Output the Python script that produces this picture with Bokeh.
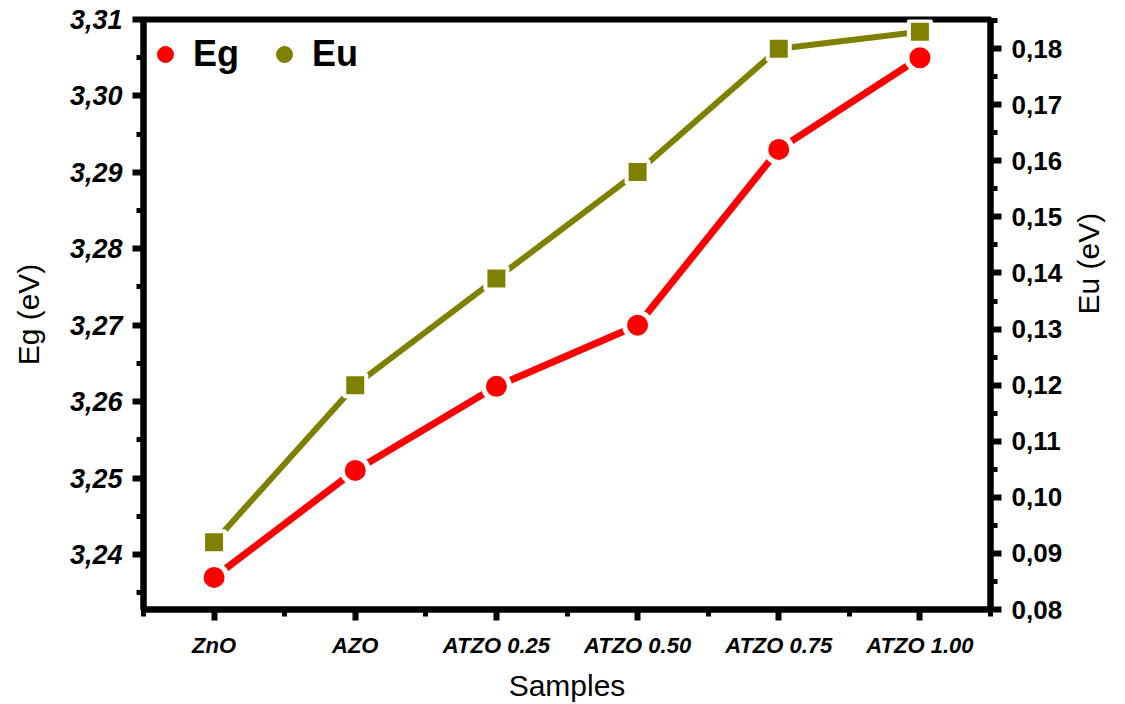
import math
from bokeh.plotting import figure
from bokeh.models import (Range1d, LinearAxis, SingleIntervalTicker, FixedTicker,
                          CustomJSTickFormatter, Legend, LegendItem)
from bokeh.embed import file_html
from bokeh.resources import INLINE

samples = ["ZnO", "AZO", "ATZO 0.25", "ATZO 0.50", "ATZO 0.75", "ATZO 1.00"]
eg_values = [3.237, 3.251, 3.262, 3.270, 3.293, 3.305]
eu_values = [0.092, 0.120, 0.139, 0.158, 0.180, 0.183]

xpos = list(range(len(samples)))
RED = "#FF0000"
OLIVE = "#808000"
FONT = "Liberation Sans"

p = figure(width=1125, height=704, output_backend="svg", toolbar_location=None,
           x_range=Range1d(-0.5, 5.5), y_range=Range1d(3.2328, 3.31),
           min_border_left=143, min_border_right=135, min_border_top=19,
           min_border_bottom=94)
p.xgrid.visible = False
p.ygrid.visible = False
p.outline_line_color = "black"
p.outline_line_width = 6
p.background_fill_color = "white"
p.border_fill_color = "white"

p.extra_y_ranges = {"eu": Range1d(0.08, 0.1852)}

comma_fmt = CustomJSTickFormatter(code="return tick.toFixed(2).replace('.', ',');")

# left axis
ya = p.yaxis[0]
ya.ticker = SingleIntervalTicker(interval=0.01, num_minor_ticks=2)
ya.formatter = comma_fmt
ya.axis_label = "Eg (eV)"

# right axis
ra = LinearAxis(y_range_name="eu", axis_label="Eu (eV)",
                ticker=SingleIntervalTicker(interval=0.01, num_minor_ticks=2),
                formatter=comma_fmt)
p.add_layout(ra, "right")

# x axis
xa = p.xaxis[0]
xa.ticker = FixedTicker(ticks=xpos, minor_ticks=[i - 0.5 for i in range(len(samples) + 1)])
xa.major_label_overrides = {i: s for i, s in enumerate(samples)}
xa.axis_label = "Samples"

for ax in [ya, ra, xa]:
    ax.axis_line_width = 6
    ax.axis_line_color = "black"
    ax.major_tick_line_width = 6
    ax.minor_tick_line_width = 5
    ax.major_tick_in = 0
    ax.minor_tick_in = 0
    ax.major_tick_out = 11
    ax.minor_tick_out = 7
    ax.major_label_text_font = FONT
    ax.major_label_text_color = "black"
    ax.axis_label_text_font = FONT
    ax.axis_label_text_font_style = "normal"
    ax.axis_label_text_font_size = "30px"
    ax.axis_label_text_color = "black"

ya.major_label_text_font_style = "bold italic"
ya.major_label_text_font_size = "27px"
ya.major_label_standoff = 10
ya.axis_label_standoff = 22
ra.major_label_text_font_style = "bold"
ra.major_label_text_font_size = "26px"
ra.major_label_standoff = 10
ra.axis_label_standoff = 23
ra.axis_label_orientation = math.pi / 2
xa.major_label_text_font_style = "bold italic"
xa.major_label_text_font_size = "22px"
xa.major_label_standoff = 12
xa.axis_label_standoff = 8

# Eg series
p.line(xpos, eg_values, line_color=RED, line_width=7)
p.scatter(xpos, eg_values, marker="circle", size=26, fill_color=RED,
          line_color="white", line_width=5)

# Eu series
p.line(xpos, eu_values, line_color=OLIVE, line_width=6, y_range_name="eu")
p.scatter(xpos, eu_values, marker="square", size=22, fill_color=OLIVE,
          line_color="white", line_width=4, y_range_name="eu")

# legend with dot glyphs (renderers hold no visible points)
nan = float("nan")
leg_eg = p.scatter([nan], [nan], marker="circle", size=17, fill_color=RED, line_color=RED)
leg_eu = p.scatter([nan], [nan], marker="circle", size=17, fill_color=OLIVE, line_color=OLIVE)
legend = Legend(items=[LegendItem(label="Eg", renderers=[leg_eg]),
                       LegendItem(label="Eu", renderers=[leg_eu])],
                location=(2, 534), orientation="horizontal",
                border_line_color=None, background_fill_alpha=0,
                margin=0, padding=0, spacing=25, label_standoff=8,
                glyph_width=40, glyph_height=40,
                label_text_font=FONT, label_text_font_style="bold",
                label_text_font_size="36px", label_text_color="black")
p.add_layout(legend, "center")

open("out.html", "w").write(file_html(p, INLINE))
